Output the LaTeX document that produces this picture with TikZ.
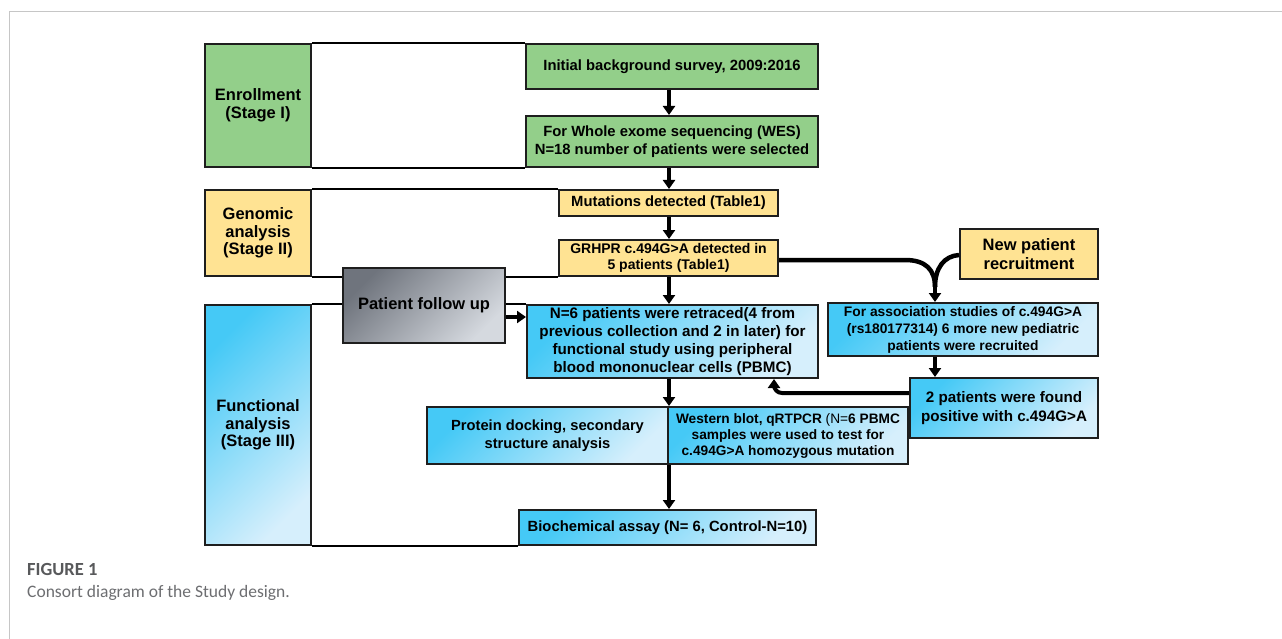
\documentclass[tikz,border=0pt]{standalone}
\usepackage{fontspec}
\setmainfont{Liberation Sans}
\newfontfamily\capfont{Carlito}
\usetikzlibrary{arrows.meta,calc}

\definecolor{grn}{HTML}{93CF8A}
\definecolor{ylw}{HTML}{FFE393}
\definecolor{bluA}{HTML}{45C9F6}
\definecolor{bluB}{HTML}{D6EFFC}
\definecolor{gryA}{HTML}{6F747D}
\definecolor{gryB}{HTML}{D5D9DF}
\definecolor{edgec}{HTML}{1E1E1E}
\definecolor{frameg}{HTML}{C6C6C6}
\definecolor{capA}{HTML}{58595B}
\definecolor{capB}{HTML}{6D6E71}

\newcommand{\fs}[2]{\fontsize{#1}{#2}\selectfont}

\tikzset{
  box/.style={draw=edgec, line width=2pt, inner sep=0pt, align=center, text=black,
              font=\bfseries\fs{14.8}{18.3}},
  gbox/.style={box, fill=grn},
  ybox/.style={box, fill=ylw},
  bbox/.style={box, left color=bluA, right color=bluB, shading angle=45},
  graybox/.style={box, left color=gryA, right color=gryB, shading angle=45},
  stagebox/.style={box, minimum width=106pt, font=\bfseries\fs{16.5}{17.5}},
  bracket/.style={draw=black, line width=2pt},
  arr/.style={draw=black, line width=4pt, -{Triangle[width=12pt,length=9pt]}},
  link/.style={draw=black, line width=4.5pt},
}

\begin{document}
\begin{tikzpicture}[x=1pt,y=-1pt]
\useasboundingbox (0,0) rectangle (1282,639);
\fill[white] (0,0) rectangle (1282,639);
\draw[frameg, line width=1.5pt] (9.5,639) -- (9.5,11.5) -- (1282,11.5);

% stage boxes
\node[stagebox, fill=grn, minimum height=123pt] (enr) at (258,105.5) {Enrollment\\(Stage I)};
\node[stagebox, fill=ylw, minimum height=86pt] (gen) at (258,233) {Genomic\\analysis\\(Stage II)};
\node[stagebox, left color=bluA, right color=bluB, shading angle=45, minimum height=240pt] (fun) at (258,425) {Functional\\analysis\\(Stage III)};

% main column boxes
\node[gbox, minimum width=292pt, minimum height=45pt] (init) at (672,66.5) {Initial background survey, 2009:2016};
\node[gbox, minimum width=292pt, minimum height=51pt] (wes) at (672,141.5) {For Whole exome sequencing (WES)\\N=18 number of patients were selected};
\node[ybox, minimum width=219pt, minimum height=26pt] (mut) at (668.5,203) {Mutations detected (Table1)};
\node[ybox, minimum width=219pt, minimum height=36pt, font=\bfseries\fs{14}{16}] (grh) at (668.5,258) {GRHPR c.494G>A detected in\\5 patients (Table1)};
\node[bbox, minimum width=291pt, minimum height=73pt, font=\bfseries\fs{15.2}{18}] (n6) at (672.5,341.5) {N=6 patients were retraced(4 from\\previous collection and 2 in later) for\\functional study using peripheral\\blood mononuclear cells (PBMC)};
\node[bbox, minimum width=297pt, minimum height=35pt] (bio) at (667.5,527.5) {Biochemical assay (N= 6, Control-N=10)};

% bracket lines
\draw[bracket] (enr.north east) -- (init.north west);
\draw[bracket] (enr.south east) -- (wes.south west);
\draw[bracket] (gen.north east) -- (mut.north west);
\draw[bracket] (gen.south east) -- (grh.south west);
\draw[bracket] (fun.north east) -- (n6.north west);
\draw[bracket] (fun.south east) -- (bio.south west);

\node[graybox, minimum width=162pt, minimum height=75pt, font=\bfseries\fs{16.5}{19}] (pfu) at (424,305.5) {Patient follow up};

\node[bbox, minimum width=241pt, minimum height=57pt, font=\bfseries\fs{14.7}{17.5}] (prot) at (547.5,435.5) {Protein docking, secondary\\structure analysis};
\node[bbox, minimum width=240pt, minimum height=57pt, font=\bfseries\fs{13.7}{16}] (west) at (788,435.5) {Western blot, qRTPCR {\mdseries(N=}6 PBMC\\samples were used to test for\\c.494G>A homozygous mutation};

\node[ybox, minimum width=138pt, minimum height=50pt, font=\bfseries\fs{16.5}{19.5}] (newp) at (1029,254) {New patient\\recruitment};
\node[bbox, minimum width=270pt, minimum height=53pt, font=\bfseries\fs{13.8}{17}] (asso) at (963,329.5) {For association studies of c.494G>A\\(rs180177314) 6 more new pediatric\\patients were recruited};
\node[bbox, minimum width=188pt, minimum height=60pt, font=\bfseries\fs{15.2}{18.5}] (two) at (1004,408) {2 patients were found\\positive with c.494G>A};

% vertical arrows
\draw[arr] (init.south -| 669,0) -- (wes.north -| 669,0);
\draw[arr] (wes.south -| 669,0) -- (mut.north -| 669,0);
\draw[arr] (mut.south -| 669,0) -- (grh.north -| 669,0);
\draw[arr] (grh.south -| 669,0) -- (n6.north -| 669,0);
\draw[arr] (n6.south -| prot.east) -- (prot.north east);
\draw[arr] (prot.south east) -- (bio.north -| prot.east);

% follow up -> n6
\coordinate (pf) at ($(pfu.east)+(0,11.5)$);
\draw[arr] (pf) -- (pf -| n6.west);

% Y merge to association
\coordinate (j) at (935,287);
\coordinate (gr) at ($(grh.east)+(0,2)$);
\coordinate (np) at ($(newp.west)+(0,1)$);
\draw[link, line cap=butt] (gr) -- (905,260) .. controls (926,260) and (935,270) .. (j);
\draw[link] (np) .. controls (944,256) and (935,268) .. (j);
\draw[arr] ($(j)+(0,-1)$) -- (j |- asso.north);

% association -> two
\draw[arr] (asso.south -| j) -- (two.north -| j);

% two -> n6
\coordinate (tw) at ($(two.north west)+(0,16)$);
\coordinate (nb) at ($(n6.south west)+(248,0)$);
\draw[arr, rounded corners=8pt] (tw) -| (nb);

% caption
\node[anchor=base west, inner sep=0pt, font=\capfont\bfseries\fs{18.5}{20}, text=capA] (figlab) at (27,575) {FIGURE 1};
\node[anchor=base west, inner sep=0pt, font=\capfont\fs{17.5}{20}, text=capB] (figcap) at (27,597) {Consort diagram of the Study design.};
\end{tikzpicture}
\end{document}
